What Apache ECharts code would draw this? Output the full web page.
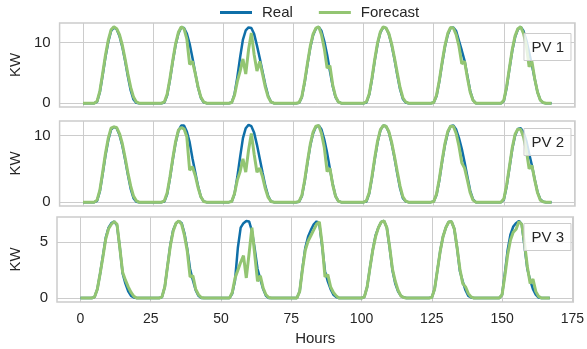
<!DOCTYPE html>
<html>
<head>
<meta charset="utf-8">
<script src="https://cdn.jsdelivr.net/npm/echarts@6/dist/echarts.min.js"></script>
<style>
  html, body { margin: 0; padding: 0; background: #fff; }
  #chart { width: 587px; height: 349px; }
</style>
</head>
<body>
<div id="chart"></div>
<script>
// tick labels
const xTicks = [0, 25, 50, 75, 100, 125, 150, 175];
const yTicksPV1 = [0, 10];
const yTicksPV2 = [0, 10];
const yTicksPV3 = [0, 5];
const panelNames = ["PV 1", "PV 2", "PV 3"];

// hourly power (KW), one row per day, 168 hours
const realPV1 = [
  0,0,0,0,0,0.2,1.8,4.6,7.6,10.1,11.9,12.5,12.2,11.1,9.3,7.0,4.4,2.1,0.6,0.05,0,0,0,0,
  0,0,0,0,0,0.1,1.3,3.9,6.9,9.6,11.5,12.5,12.4,11.5,9.8,7.5,5.0,2.6,0.9,0.15,0,0,0,0,
  0,0,0,0,0,0.1,1.5,4.3,7.6,10.5,12.0,12.5,12.4,11.4,9.5,7.4,5.2,3.0,1.2,0.2,0,0,0,0,
  0,0,0,0,0,0.05,1.0,3.4,6.4,9.2,11.2,12.3,12.6,11.9,10.2,8.0,5.3,2.8,1.0,0.2,0,0,0,0,
  0,0,0,0,0,0.1,1.4,4.0,7.1,9.8,11.7,12.5,12.4,11.4,9.6,7.3,4.7,2.3,0.7,0.1,0,0,0,0,
  0,0,0,0,0,0.1,1.2,3.6,6.6,9.3,11.3,12.4,12.5,11.9,10.3,8.7,7.0,4.5,2.0,0.5,0,0,0,0,
  0,0,0,0,0,0,0.4,2.6,5.7,8.7,10.9,12.2,12.6,11.9,10.4,8.4,6.3,4.0,1.8,0.5,0.05,0,0,0
];
const forecastPV1 = [
  0,0,0,0,0,0.3,2.0,4.9,7.9,10.4,12.1,12.6,12.3,11.3,9.6,7.3,4.8,2.6,1.0,0.2,0,0,0,0,
  0,0,0,0,0,0.2,1.5,4.1,7.1,9.8,11.7,12.6,12.3,10.6,6.4,6.9,4.9,2.7,1.0,0.2,0,0,0,0,
  0,0,0,0,0,0.1,1.3,3.6,5.3,7.3,4.8,8.8,11.6,8.0,5.3,6.9,4.8,2.6,1.0,0.2,0,0,0,0,
  0,0,0,0,0,0.1,1.1,3.6,6.6,9.4,11.4,12.4,12.6,11.3,9.0,5.8,6.2,3.0,1.1,0.2,0,0,0,0,
  0,0,0,0,0,0.2,1.5,4.2,7.3,10.0,11.8,12.6,12.4,11.5,9.8,7.5,5.0,2.6,0.9,0.2,0,0,0,0,
  0,0,0,0,0,0.1,1.3,3.8,6.8,9.5,11.5,12.5,12.4,11.3,9.4,6.5,6.9,4.2,1.8,0.5,0,0,0,0,
  0,0,0,0,0,0,0.5,2.8,5.9,8.9,11.1,12.3,12.6,11.5,9.5,6.0,6.9,4.0,1.8,0.5,0.1,0,0,0
];
const realPV2 = [
  0,0,0,0,0,0.2,1.6,4.2,7.0,9.3,10.9,11.3,11.1,10.1,8.5,6.4,4.1,2.0,0.6,0.05,0,0,0,0,
  0,0,0,0,0,0.1,1.2,3.6,6.4,8.9,10.7,11.5,11.5,10.6,9.0,6.6,4.5,2.4,0.8,0.1,0,0,0,0,
  0,0,0,0,0,0.1,1.2,3.8,6.8,9.6,11.1,11.6,11.4,10.4,8.6,6.5,4.4,2.4,0.9,0.1,0,0,0,0,
  0,0,0,0,0,0.05,0.9,3.1,5.9,8.5,10.3,11.3,11.5,10.9,9.4,7.4,5.0,2.7,0.9,0.15,0,0,0,0,
  0,0,0,0,0,0.1,1.3,3.7,6.5,9.0,10.8,11.5,11.4,10.5,8.8,6.7,4.3,2.1,0.6,0.1,0,0,0,0,
  0,0,0,0,0,0.1,1.1,3.3,6.1,8.6,10.4,11.4,11.5,10.9,9.6,8.0,6.0,3.8,1.7,0.4,0,0,0,0,
  0,0,0,0,0,0,0.4,2.4,5.2,8.0,10.0,11.0,11.1,10.5,9.2,7.3,5.5,3.4,1.5,0.4,0.05,0,0,0
];
const forecastPV2 = [
  0,0,0,0,0,0.3,1.8,4.5,7.3,9.6,11.1,11.3,11.2,10.3,8.8,6.7,4.4,2.4,0.9,0.2,0,0,0,0,
  0,0,0,0,0,0.2,1.4,3.8,6.6,9.1,10.8,11.2,11.0,9.8,4.8,5.3,4.0,2.2,0.8,0.1,0,0,0,0,
  0,0,0,0,0,0.1,1.3,3.3,4.6,6.5,4.5,7.8,10.3,7.2,4.5,5.1,3.8,2.0,0.7,0.1,0,0,0,0,
  0,0,0,0,0,0.1,1.0,3.3,6.1,8.7,10.5,11.4,11.5,10.3,8.2,4.6,5.1,2.6,0.9,0.15,0,0,0,0,
  0,0,0,0,0,0.2,1.4,3.9,6.7,9.2,10.9,11.5,11.4,10.6,9.0,6.9,4.6,2.4,0.8,0.15,0,0,0,0,
  0,0,0,0,0,0.1,1.2,3.5,6.3,8.8,10.6,11.4,11.4,10.3,8.4,5.9,5.1,3.3,1.4,0.3,0,0,0,0,
  0,0,0,0,0,0,0.5,2.6,5.4,8.2,10.2,11.0,10.9,9.8,7.8,5.0,5.5,3.3,1.4,0.3,0.05,0,0,0
];
const realPV3 = [
  0,0,0,0,0,0.1,0.8,2.2,3.8,5.4,6.3,6.7,6.85,6.5,4.5,2.2,1.3,0.6,0.2,0.05,0,0,0,0,
  0,0,0,0,0,0.1,1.0,2.9,4.8,6.1,6.7,6.9,6.7,5.8,4.4,2.6,1.6,0.7,0.2,0,0,0,0,0,
  0,0,0,0,0,0,0.4,1.6,4.5,6.3,6.7,6.9,6.85,6.0,4.4,2.6,1.7,0.8,0.2,0,0,0,0,0,
  0,0,0,0,0,0,0.6,2.7,4.5,5.5,6.1,6.6,6.85,6.6,4.6,2.4,1.5,0.8,0.3,0.1,0,0,0,0,
  0,0,0,0,0,0.1,1.0,2.7,4.3,5.6,6.3,6.8,6.9,6.3,4.5,2.5,1.3,0.6,0.2,0.05,0,0,0,0,
  0,0,0,0,0,0.05,0.8,2.5,4.2,5.5,6.3,6.8,6.85,6.2,4.5,2.4,1.5,0.7,0.2,0.05,0,0,0,0,
  0,0,0,0,0,0,0.3,2.2,4.3,5.7,6.4,6.7,6.9,6.6,4.6,2.6,1.6,0.8,0.3,0.05,0,0,0,0
];
const forecastPV3 = [
  0,0,0,0,0,0.1,0.8,2.2,3.7,5.3,6.2,6.6,6.85,6.6,4.5,2.3,1.6,1.0,0.5,0.15,0,0,0,0,
  0,0,0,0,0,0.1,1.0,2.9,4.7,6.0,6.7,6.9,6.6,5.6,4.2,1.9,2.0,0.8,0.3,0.05,0,0,0,0,
  0,0,0,0,0,0,0.5,1.8,2.5,3.2,3.8,1.8,4.0,6.3,3.9,1.5,2.0,0.9,0.3,0.05,0,0,0,0,
  0,0,0,0,0,0,0.6,2.6,4.3,5.1,5.6,6.1,6.6,6.8,4.8,1.9,2.1,1.0,0.5,0.2,0,0,0,0,
  0,0,0,0,0,0.1,1.0,2.7,4.3,5.5,6.3,6.8,6.9,6.3,4.6,2.6,1.5,0.7,0.2,0.05,0,0,0,0,
  0,0,0,0,0,0.05,0.8,2.5,4.2,5.5,6.3,6.8,6.85,6.2,4.5,2.6,1.3,1.0,0.4,0.1,0,0,0,0,
  0,0,0,0,0,0,0.3,2.0,3.9,5.2,5.9,6.15,6.85,6.6,4.9,2.8,1.3,1.7,0.6,0.15,0,0,0,0
];

const REAL = "#0f6fa8";
const FORECAST = "#93c572";
const GRID_LINE = "#cccccc";
const TEXT = "#262626";
const FONT = "Liberation Sans";

const panels = [
  { real: realPV1, forecast: forecastPV1, yTicks: yTicksPV1, yMin: -0.63, yMax: 13.23, top: 23, height: 84, boxTop: 33 },
  { real: realPV2, forecast: forecastPV2, yTicks: yTicksPV2, yMin: -0.58, yMax: 12.18, top: 121, height: 85, boxTop: 128 },
  { real: realPV3, forecast: forecastPV3, yTicks: yTicksPV3, yMin: -0.35, yMax: 7.25, top: 217, height: 85, boxTop: 223 }
];

const toPoints = arr => arr.map((v, i) => [i, v]);

const chart = echarts.init(document.getElementById("chart"), null, { renderer: "canvas" });

chart.setOption({
  animation: false,
  backgroundColor: "#ffffff",
  textStyle: { fontFamily: FONT, color: TEXT },
  legend: {
    left: 215,
    top: 0,
    icon: "rect",
    itemWidth: 32,
    itemHeight: 3,
    itemGap: 26,
    textStyle: { fontFamily: FONT, fontSize: 15, color: TEXT, padding: [0, 0, 0, 5] },
    data: ["Real", "Forecast"]
  },
  title: panels.map((p, i) => ({
    text: panelNames[i],
    right: 16,
    top: p.boxTop,
    padding: [7, 7, 6, 8],
    borderColor: GRID_LINE,
    borderWidth: 1,
    backgroundColor: "rgba(255,255,255,0.8)",
    textStyle: { fontFamily: FONT, fontSize: 15, fontWeight: "normal", color: TEXT }
  })),
  grid: panels.map(p => ({
    left: 57,
    right: 12,
    top: p.top,
    height: p.height,
    show: true,
    borderColor: GRID_LINE,
    borderWidth: 1.5,
    backgroundColor: "transparent"
  })),
  xAxis: panels.map((p, i) => ({
    type: "value",
    gridIndex: i,
    min: -8.35,
    max: 175.35,
    name: i === 2 ? "Hours" : "",
    nameLocation: "middle",
    nameGap: 29,
    nameTextStyle: { fontFamily: FONT, fontSize: 15, color: TEXT },
    axisLine: { show: false },
    axisTick: { show: false, customValues: xTicks },
    axisLabel: { show: i === 2, customValues: xTicks, margin: 10, fontFamily: FONT, fontSize: 14, color: TEXT },
    splitLine: { show: true, lineStyle: { color: GRID_LINE, width: 1 } }
  })),
  yAxis: panels.map((p, i) => ({
    type: "value",
    gridIndex: i,
    min: p.yMin,
    max: p.yMax,
    name: "KW",
    nameLocation: "middle",
    nameGap: 34,
    nameRotate: 90,
    nameTextStyle: { fontFamily: FONT, fontSize: 15, color: TEXT },
    axisLine: { show: false },
    axisTick: { show: false, customValues: p.yTicks },
    axisLabel: { customValues: p.yTicks, margin: 9, fontFamily: FONT, fontSize: 15, color: TEXT },
    splitLine: { show: true, lineStyle: { color: GRID_LINE, width: 1 } }
  })),
  series: panels.flatMap((p, i) => [
    {
      name: "Real",
      type: "line",
      xAxisIndex: i,
      yAxisIndex: i,
      data: toPoints(p.real),
      showSymbol: false,
      symbol: "none",
      lineStyle: { color: REAL, width: 2.5 },
      itemStyle: { color: REAL },
      z: 2
    },
    {
      name: "Forecast",
      type: "line",
      xAxisIndex: i,
      yAxisIndex: i,
      data: toPoints(p.forecast),
      showSymbol: false,
      symbol: "none",
      lineStyle: { color: FORECAST, width: 3 },
      itemStyle: { color: FORECAST },
      z: 3
    }
  ])
});
</script>
</body>
</html>
